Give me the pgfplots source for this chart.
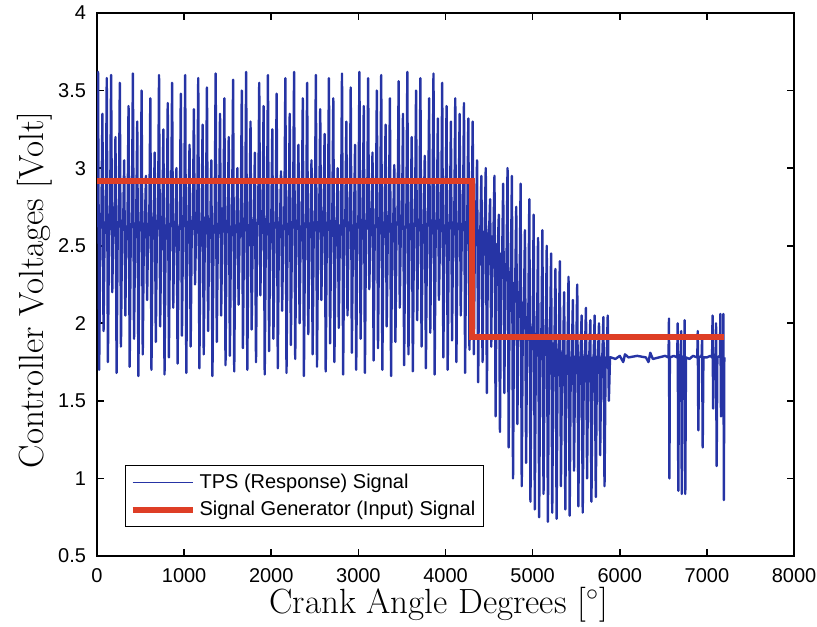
\documentclass[border=0pt]{standalone}
\usepackage{fontspec}
\newfontfamily\arial{Liberation Sans}
\usepackage{pgfplots}
\pgfplotsset{compat=1.18}
\definecolor{tpsblue}{RGB}{38,52,165}
\definecolor{genred}{RGB}{222,62,38}

\begin{document}
\begin{tikzpicture}
\begin{axis}[
  scale only axis, width=348.5pt, height=271.5pt,
  xmin=0, xmax=8000, ymin=0.5, ymax=4,
  xtick={0,1000,...,8000}, ytick={0.5,1,...,4},
  tick align=inside, major tick length=3.5pt,
  axis line style={line width=0.8pt}, every tick/.style={black,line width=0.8pt},
  /pgf/number format/assume math mode=true,
  /pgf/number format/1000 sep={},
  tick label style={font=\arial\fontsize{10}{12}\selectfont},
  yticklabel style={xshift=-2pt},
  xticklabel style={yshift=-2.5pt},
  xlabel={Crank Angle Degrees [$^\circ$]},
  ylabel={Controller Voltages [Volt]},
  label style={font=\fontsize{17.5}{20}\selectfont},
  xlabel style={at={(axis description cs:0.49,-0.105)}, anchor=base},
  ylabel style={at={(axis description cs:-0.077,0.49)}, anchor=base},
  legend style={at={(rel axis cs:0.040,0.053)}, anchor=south west,
    font=\arial\fontsize{10}{12}\selectfont, draw=black, line width=0.7pt,
    inner sep=2pt, row sep=1pt, cells={anchor=west}},
  legend image code/.code={\draw[#1] (0pt,0pt) -- (30pt,0pt);},
]
% TPS response signal
\addplot[tpsblue, line width=1.2pt, line join=round, forget plot] coordinates {
(0,2.62)(12,3.62)(25,1.70)(38,2.62)(50,2.65)(62,3.35)(75,1.95)(88,2.65)(100,2.60)(112,3.58)(125,1.75)(138,2.60)
(150,2.64)(162,3.60)(175,2.20)(188,2.64)(200,2.63)(212,3.20)(225,1.68)(238,2.63)(250,2.66)(262,3.55)(275,1.85)(288,2.66)
(300,2.61)(312,3.05)(325,2.05)(338,2.61)(350,2.63)(362,3.40)(375,1.72)(388,2.63)(400,2.62)(412,3.61)(425,1.90)(438,2.62)
(450,2.65)(462,3.30)(475,1.66)(488,2.65)(500,2.60)(512,3.50)(525,1.80)(538,2.60)(550,2.64)(562,2.95)(575,2.15)(588,2.64)
(600,2.63)(612,3.45)(625,1.70)(638,2.63)(650,2.66)(662,3.10)(675,1.88)(688,2.66)(700,2.61)(712,3.60)(725,1.98)(738,2.61)
(750,2.63)(762,3.25)(775,1.67)(788,2.63)(800,2.62)(812,3.42)(825,1.78)(838,2.62)(850,2.65)(862,3.55)(875,2.10)(888,2.65)
(900,2.60)(912,3.00)(925,1.74)(938,2.60)(950,2.64)(962,3.48)(975,1.92)(988,2.64)(1000,2.63)(1012,3.60)(1025,1.68)(1038,2.63)
(1050,2.66)(1062,3.15)(1075,1.85)(1088,2.66)(1100,2.61)(1112,3.38)(1125,2.25)(1138,2.61)(1150,2.63)(1162,3.58)(1175,1.71)(1188,2.63)
(1200,2.62)(1212,3.28)(1225,1.80)(1238,2.62)(1250,2.65)(1262,3.52)(1275,1.95)(1288,2.65)(1300,2.60)(1312,3.05)(1325,1.66)(1338,2.60)
(1350,2.64)(1362,3.61)(1375,1.88)(1388,2.64)(1400,2.63)(1412,3.35)(1425,2.05)(1438,2.63)(1450,2.66)(1462,3.45)(1475,1.73)(1488,2.66)
(1500,2.61)(1512,3.20)(1525,1.79)(1538,2.61)(1550,2.63)(1562,3.57)(1575,1.69)(1588,2.63)(1600,2.62)(1612,3.00)(1625,2.12)(1638,2.62)
(1650,2.65)(1662,3.50)(1675,1.84)(1688,2.65)(1700,2.60)(1712,3.62)(1725,1.70)(1738,2.60)(1750,2.64)(1762,3.30)(1775,1.96)(1788,2.64)
(1800,2.63)(1812,3.10)(1825,1.75)(1838,2.63)(1850,2.66)(1862,3.55)(1875,2.18)(1888,2.66)(1900,2.61)(1912,3.40)(1925,1.67)(1938,2.61)
(1950,2.63)(1962,3.60)(1975,1.82)(1988,2.63)(2000,2.62)(2012,3.25)(2025,1.90)(2038,2.62)(2050,2.65)(2062,3.48)(2075,1.71)(2088,2.65)
(2100,2.60)(2112,2.98)(2125,2.08)(2138,2.60)(2150,2.64)(2162,3.58)(2175,1.68)(2188,2.64)(2200,2.63)(2212,3.35)(2225,1.86)(2238,2.63)
(2250,2.66)(2262,3.62)(2275,1.77)(2288,2.66)(2300,2.61)(2312,3.15)(2325,2.00)(2338,2.61)(2350,2.63)(2362,3.45)(2375,1.66)(2388,2.63)
(2400,2.62)(2412,3.55)(2425,1.93)(2438,2.62)(2450,2.65)(2462,3.05)(2475,1.80)(2488,2.65)(2500,2.60)(2512,3.60)(2525,1.72)(2538,2.60)
(2550,2.64)(2562,3.38)(2575,2.15)(2588,2.64)(2600,2.63)(2612,3.22)(2625,1.69)(2638,2.63)(2650,2.66)(2662,3.58)(2675,1.87)(2688,2.66)
(2700,2.61)(2712,3.45)(2725,1.75)(2738,2.61)(2750,2.63)(2762,3.00)(2775,1.97)(2788,2.63)(2800,2.62)(2812,3.61)(2825,1.67)(2838,2.62)
(2850,2.65)(2862,3.30)(2875,2.05)(2888,2.65)(2900,2.60)(2912,3.52)(2925,1.81)(2938,2.60)(2950,2.64)(2962,3.15)(2975,1.70)(2988,2.64)
(3000,2.63)(3012,3.62)(3025,1.90)(3038,2.63)(3050,2.66)(3062,3.40)(3075,1.68)(3088,2.66)(3100,2.61)(3112,3.58)(3125,2.22)(3138,2.61)
(3150,2.63)(3162,3.10)(3175,1.76)(3188,2.63)(3200,2.62)(3212,3.50)(3225,1.84)(3238,2.62)(3250,2.65)(3262,3.60)(3275,1.70)(3288,2.65)
(3300,2.60)(3312,3.28)(3325,1.98)(3338,2.60)(3350,2.64)(3362,3.45)(3375,1.66)(3388,2.64)(3400,2.63)(3412,3.02)(3425,1.88)(3438,2.63)
(3450,2.66)(3462,3.56)(3475,2.10)(3488,2.66)(3500,2.61)(3512,3.35)(3525,1.73)(3538,2.61)(3550,2.63)(3562,3.62)(3575,1.80)(3588,2.63)
(3600,2.62)(3612,3.20)(3625,1.69)(3638,2.62)(3650,2.65)(3662,3.50)(3675,2.02)(3688,2.65)(3700,2.60)(3712,3.58)(3725,1.85)(3738,2.60)
(3750,2.64)(3762,3.08)(3775,1.71)(3788,2.64)(3800,2.63)(3812,3.45)(3825,1.94)(3838,2.63)(3850,2.66)(3862,3.61)(3875,1.67)(3888,2.66)
(3900,2.61)(3912,3.32)(3925,2.15)(3938,2.61)(3950,2.63)(3962,3.55)(3975,1.78)(3988,2.63)(4000,2.62)(4012,3.40)(4025,1.70)(4038,2.62)
(4050,2.65)(4062,3.30)(4075,1.89)(4088,2.65)(4100,2.60)(4112,3.45)(4125,1.75)(4138,2.60)(4150,2.64)(4162,3.35)(4175,2.05)(4188,2.64)
(4200,2.63)(4212,3.42)(4225,1.68)(4238,2.63)(4250,2.66)(4262,3.32)(4275,1.83)(4288,2.66)
(4300,2.62)(4312,3.30)(4325,1.80)(4338,2.61)(4350,2.60)(4362,3.05)(4375,1.62)(4388,2.60)(4400,2.60)(4412,2.95)(4425,1.75)(4438,2.59)
(4450,2.59)(4462,3.00)(4475,1.55)(4488,2.58)(4500,2.58)(4512,2.80)(4525,1.85)(4538,2.56)(4550,2.55)(4562,2.95)(4575,1.40)(4588,2.51)
(4600,2.48)(4612,2.70)(4625,1.30)(4638,2.45)(4650,2.42)(4662,2.90)(4675,1.55)(4688,2.38)(4700,2.36)(4712,3.00)(4725,1.20)(4738,2.33)
(4750,2.30)(4762,2.95)(4775,1.00)(4788,2.26)(4800,2.24)(4812,2.75)(4825,1.35)(4838,2.20)(4850,2.18)(4862,2.90)(4875,0.95)(4888,2.13)
(4900,2.10)(4912,2.60)(4925,1.10)(4938,2.04)(4950,2.00)(4962,2.80)(4975,0.85)(4988,1.97)(5000,1.95)(5012,2.70)(5025,0.80)(5038,1.93)
(5050,1.92)(5062,2.55)(5075,0.75)(5088,1.91)(5100,1.90)(5112,2.60)(5125,0.90)(5138,1.89)(5150,1.88)(5162,2.50)(5175,0.72)(5188,1.89)
(5200,1.90)(5212,2.45)(5225,0.78)(5238,1.87)(5250,1.85)(5262,2.35)(5275,0.74)(5288,1.83)(5300,1.82)(5312,2.40)(5325,0.95)(5338,1.81)
(5350,1.80)(5362,2.20)(5375,0.80)(5388,1.79)(5400,1.78)(5412,2.30)(5425,0.76)(5438,1.78)(5450,1.78)(5462,2.15)(5475,1.05)(5488,1.78)
(5500,1.79)(5512,2.25)(5525,0.82)(5538,1.78)(5550,1.78)(5562,2.05)(5575,0.78)(5588,1.78)(5600,1.79)(5612,2.10)(5625,1.00)(5638,1.79)
(5650,1.78)(5662,2.02)(5675,0.85)(5688,1.78)(5700,1.78)(5712,2.05)(5725,0.88)(5738,1.78)(5750,1.79)(5762,2.00)(5775,1.15)(5788,1.78)
(5800,1.78)(5812,2.04)(5825,0.95)(5838,1.78)(5850,1.78)(5862,2.05)(5875,1.50)(5888,1.78)
(5900,1.78)(5950,1.77)(6000,1.79)(6040,1.75)(6060,1.80)(6100,1.78)(6200,1.79)(6300,1.78)
(6330,1.75)(6350,1.81)(6380,1.77)(6450,1.78)(6520,1.79)
(6560,1.78)(6565,2.03)(6570,1.00)(6575,1.78)(6620,1.79)
(6660,1.78)(6665,2.00)(6672,0.92)(6680,1.78)(6700,1.80)(6705,1.95)(6712,0.90)(6720,1.78)
(6740,1.79)(6745,2.02)(6752,0.90)(6760,1.78)(6800,1.77)(6840,1.79)
(6890,1.78)(6895,1.95)(6902,1.31)(6910,1.78)(6940,1.79)(6945,1.90)(6952,1.20)(6960,1.78)
(7000,1.78)(7040,1.79)
(7060,1.78)(7065,2.05)(7072,1.45)(7080,1.78)(7100,1.80)(7105,2.00)(7112,1.08)(7120,1.78)
(7150,1.79)(7155,2.06)(7162,1.40)(7170,1.78)(7185,1.80)(7190,2.06)(7195,0.86)(7200,1.78)
};
\addlegendimage{tpsblue, line width=0.6pt}
\addlegendentry{TPS (Response) Signal}
% signal generator input
\addplot[genred, line width=3pt] coordinates {
(0,2.92)(4300,2.92)(4300,1.91)(7200,1.91)
};
\addlegendentry{Signal Generator (Input) Signal}
\end{axis}
\pgfresetboundingbox
\path ([shift={(-48.5pt,-35pt)}]current axis.south west) rectangle ([shift={(11.5pt,6.5pt)}]current axis.north east);
\end{tikzpicture}
\end{document}
